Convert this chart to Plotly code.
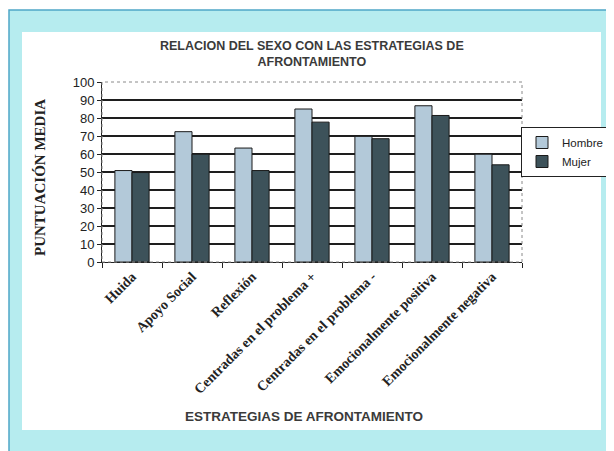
import plotly.graph_objects as go

categories = ["Huida", "Apoyo Social", "Reflexión", "Centradas en el problema +",
              "Centradas en el problema -", "Emocionalmente positiva", "Emocionalmente negativa"]
hombre = [50.8, 72.4, 63.3, 85.0, 69.8, 86.8, 59.9]
mujer = [49.7, 59.9, 50.8, 77.7, 68.5, 81.4, 54.0]
y_ticks = [0, 10, 20, 30, 40, 50, 60, 70, 80, 90, 100]

# page body has an 8px default margin; figure drawn at (8, 8)
OFF = 8
W, H = 614 - OFF, 451 - OFF
L, R, T, B = 102 - OFF, 522 - OFF, 82 - OFF, 262 - OFF
pw, ph = R - L, B - T

def px(x):
    return (x - OFF - L) / pw

def py(y):
    return (B - (y - OFF)) / ph

fig = go.Figure()
fig.add_trace(go.Bar(x=categories, y=hombre, name="Hombre",
                     marker=dict(color="#b3c9d9", line=dict(color="#1a1a1a", width=1))))
fig.add_trace(go.Bar(x=categories, y=mujer, name="Mujer",
                     marker=dict(color="#3d525a", line=dict(color="#1a1a1a", width=1))))

shapes = [
    # outer cyan frame
    dict(type="rect", xref="paper", yref="paper", x0=px(9), x1=px(640), y0=py(480), y1=py(10),
         fillcolor="#b6ecef", line=dict(color="#4fa6c8", width=1.5), layer="below"),
    # inner white panel
    dict(type="rect", xref="paper", yref="paper", x0=px(22), x1=px(601), y0=py(430), y1=py(32),
         fillcolor="white", line=dict(width=0), layer="below"),
    # plot-area border
    dict(type="rect", xref="paper", yref="paper", x0=0, x1=1, y0=0, y1=1,
         line=dict(color="#8a8a8a", width=1, dash="dot"), layer="above"),
]

annotations = [
    dict(text="<b>RELACION DEL SEXO CON LAS ESTRATEGIAS DE<br>AFRONTAMIENTO</b>", xref="paper", yref="paper",
         x=px(312), y=py(54), xanchor="center", yanchor="middle", showarrow=False,
         font=dict(family="Arial", size=12.5, color="#3a3a3a"), align="center"),
    dict(text="<b>PUNTUACIÓN MEDIA</b>", xref="paper", yref="paper",
         x=px(40), y=py(178), xanchor="center", yanchor="middle", textangle=-90, showarrow=False,
         font=dict(family="Liberation Serif", size=15, color="#222222")),
    dict(text="<b>ESTRATEGIAS DE AFRONTAMIENTO</b>", xref="paper", yref="paper",
         x=px(304), y=py(416), xanchor="center", yanchor="middle", showarrow=False,
         font=dict(family="Arial", size=13.5, color="#3a3a3a")),
]

fig.update_layout(
    width=W, height=H,
    margin=dict(l=L, r=W - R, t=T, b=H - B, pad=0, autoexpand=False),
    paper_bgcolor="white",
    plot_bgcolor="#c2d8dd",
    barmode="group", bargap=0.43, bargroupgap=0.0,
    shapes=shapes, annotations=annotations,
    showlegend=True,
    legend=dict(x=px(521), y=py(127), xanchor="left", yanchor="top",
                bgcolor="white", bordercolor="#222222", borderwidth=1,
                font=dict(family="Arial", size=11.5, color="#222222"),
                itemwidth=30, tracegroupgap=6),
    xaxis=dict(tickangle=-45, ticks="outside", tickson="boundaries", ticklen=5,
               tickcolor="#222222", showline=True, linecolor="#222222", linewidth=1,
               tickfont=dict(family="Liberation Serif", size=14, color="#222222"),
               tickprefix="<b>", ticksuffix="</b>", showgrid=False, automargin=False),
    yaxis=dict(range=[0, 100], tickmode="array", tickvals=y_ticks, ticks="outside", ticklen=4,
               tickcolor="#222222", showline=True, linecolor="#222222", linewidth=1,
               showgrid=True, gridcolor="#1e1e1e", gridwidth=1.5, automargin=False,
               tickfont=dict(family="Arial", size=13, color="#222222"), zeroline=False),
)

fig.write_html("out.html")
